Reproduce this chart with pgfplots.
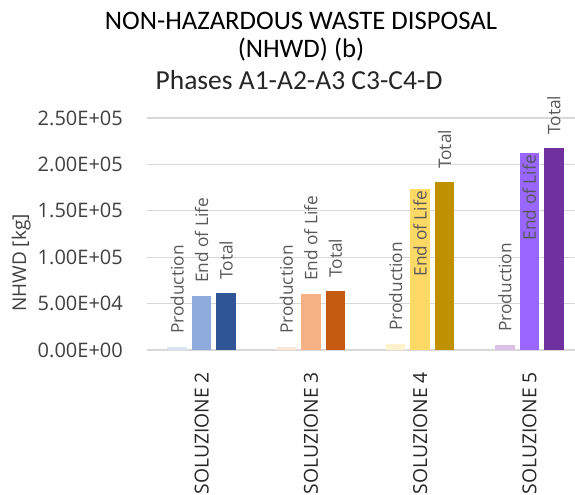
\documentclass[border=0pt]{standalone}
\usepackage{pgfplots}
\pgfplotsset{compat=1.18}
\usepackage{fontspec}
\setmainfont{Open Sans}
\newfontfamily\carlito{Carlito}
\definecolor{gridc}{HTML}{D9D9D9}
\definecolor{txt}{HTML}{404040}
\definecolor{lab}{HTML}{595959}
\definecolor{aP}{HTML}{DAE3F3}\definecolor{aE}{HTML}{8FAADC}\definecolor{aT}{HTML}{2F5597}
\definecolor{bP}{HTML}{FBE5D6}\definecolor{bE}{HTML}{F4B183}\definecolor{bT}{HTML}{C55A11}
\definecolor{cP}{HTML}{FFF2CC}\definecolor{cE}{HTML}{FFD966}\definecolor{cT}{HTML}{BF9000}
\definecolor{dP}{HTML}{D9C0E4}\definecolor{dE}{HTML}{9966FF}\definecolor{dT}{HTML}{7030A0}
\begin{document}
\begin{tikzpicture}
\useasboundingbox (0,0) rectangle (575bp,495bp);
\node[anchor=base, font=\carlito\fontsize{26.7bp}{30bp}\selectfont] at (301bp,465bp) {NON-HAZARDOUS WASTE DISPOSAL};
\node[anchor=base, font=\carlito\fontsize{26.7bp}{30bp}\selectfont] at (301bp,437.5bp) {(NHWD) (b)};
\node[anchor=base, text=black!85, font=\carlito\fontsize{27.5bp}{30bp}\selectfont] at (299bp,405.5bp) {Phases A1-A2-A3 C3-C4-D};
\begin{axis}[
  at={(147bp,145bp)}, anchor=south west,
  scale only axis, width=437bp, height=232bp,
  xmin=-0.5, xmax=3.5, ymin=0, ymax=250000,
  scaled y ticks=false,
  clip=false,
  axis line style={draw=none},
  major tick length=0pt,
  tick style={draw=none},
  ymajorgrids, grid style={gridc, line width=1.2bp},
  ytick={0,50000,100000,150000,200000,250000},
  yticklabels={0.00E+00,5.00E+04,1.00E+05,1.50E+05,2.00E+05,2.50E+05},
  yticklabel style={anchor=east, inner xsep=24bp, inner ysep=0pt, text=txt, font=\fontsize{20bp}{22bp}\selectfont},
  xtick={0,1,2,3},
  xticklabels={SOLUZIONE 2,SOLUZIONE 3,SOLUZIONE 4,SOLUZIONE 5},
  xticklabel style={rotate=90, anchor=east, inner xsep=22bp, inner ysep=0pt, text=black!85, font=\fontsize{19.3bp}{22bp}\selectfont},
  ylabel={NHWD [kg]},
  every axis y label/.style={at={(axis description cs:-0.288,0.375)}, anchor=center, rotate=90, text=txt, font=\fontsize{19bp}{22bp}\selectfont},
  every node near coord/.append style={rotate=90, text=lab, font=\fontsize{17.3bp}{20bp}\selectfont, inner ysep=0pt},
]
\pgfplotsset{
  out/.style={nodes near coords={#1}, every node near coord/.append style={anchor=west, inner xsep=13bp}},
  in/.style={nodes near coords={#1}, every node near coord/.append style={anchor=east, inner xsep=2bp}},
  B/.style={ybar, bar width=19.5bp, bar shift=0bp, draw=none},
}
% SOLUZIONE 2
\addplot[B, fill=aP, out=Production] coordinates {(-0.2243,3200)};
\addplot[B, fill=aE, out=End of Life] coordinates {(0,58200)};
\addplot[B, fill=aT, out=Total] coordinates {(0.2243,61400)};
% SOLUZIONE 3
\addplot[B, fill=bP, out=Production] coordinates {(0.7757,3200)};
\addplot[B, fill=bE, out=End of Life] coordinates {(1,60300)};
\addplot[B, fill=bT, out=Total] coordinates {(1.2243,63600)};
% SOLUZIONE 4
\addplot[B, fill=cP, out=Production] coordinates {(1.7757,6500)};
\addplot[B, fill=cE, in=End of Life] coordinates {(2,173500)};
\addplot[B, fill=cT, out=Total] coordinates {(2.2243,181000)};
% SOLUZIONE 5
\addplot[B, fill=dP, out=Production] coordinates {(2.7757,5400)};
\addplot[B, fill=dE, in=End of Life] coordinates {(3,212300)};
\addplot[B, fill=dT, out=Total] coordinates {(3.2243,217700)};
\end{axis}
\end{tikzpicture}
\end{document}
